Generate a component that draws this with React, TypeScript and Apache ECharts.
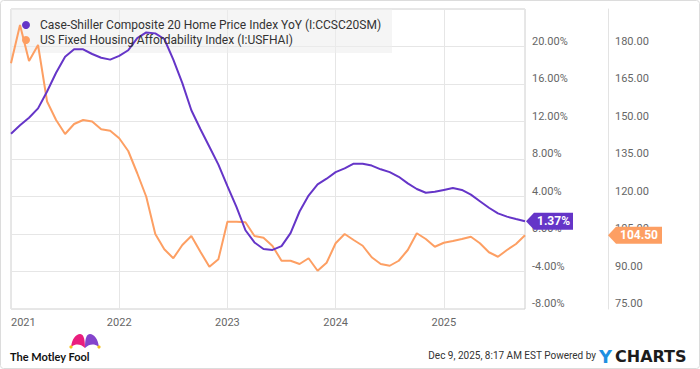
import React, { useEffect, useRef } from "react";
import * as echarts from "echarts";

// Month-end observation dates (Dec 2020 - Sep 2025)
const months = [
  "2020-12",
  "2021-01", "2021-02", "2021-03", "2021-04", "2021-05", "2021-06",
  "2021-07", "2021-08", "2021-09", "2021-10", "2021-11", "2021-12",
  "2022-01", "2022-02", "2022-03", "2022-04", "2022-05", "2022-06",
  "2022-07", "2022-08", "2022-09", "2022-10", "2022-11", "2022-12",
  "2023-01", "2023-02", "2023-03", "2023-04", "2023-05", "2023-06",
  "2023-07", "2023-08", "2023-09", "2023-10", "2023-11", "2023-12",
  "2024-01", "2024-02", "2024-03", "2024-04", "2024-05", "2024-06",
  "2024-07", "2024-08", "2024-09", "2024-10", "2024-11", "2024-12",
  "2025-01", "2025-02", "2025-03", "2025-04", "2025-05", "2025-06",
  "2025-07", "2025-08", "2025-09",
];

// Case-Shiller Composite 20 YoY (%)
const caseShillerYoY = [
  10.7,
  11.6, 12.4, 13.4, 15.2, 17.2, 18.9, 19.7, 19.7, 19.2, 18.8, 18.6, 19.0,
  19.6, 20.9, 21.5, 21.4, 20.8, 18.6, 16.1, 13.2, 11.2, 9.3, 7.4, 5.1,
  2.9, 0.4, -0.9, -1.6, -1.7, -1.3, 0.1, 2.4, 4.1, 5.3, 5.9, 6.6,
  7.0, 7.5, 7.5, 7.3, 6.9, 6.6, 6.1, 5.4, 4.8, 4.4, 4.5, 4.7,
  4.9, 4.7, 4.2, 3.5, 2.8, 2.2, 1.85, 1.6, 1.37,
];

// US Fixed Housing Affordability Index
const affordabilityIndex = [
  173.3,
  188.6, 174.2, 180.6, 158.0, 150.6, 145.0, 149.0, 150.6, 150.0, 146.9, 146.3, 143.3,
  138.2, 129.3, 119.9, 105.0, 98.9, 95.3, 100.6, 104.2, 97.9, 91.9, 94.9, 109.9,
  109.9, 109.7, 104.2, 103.5, 100.2, 94.3, 94.3, 93.0, 95.3, 90.3, 93.5, 101.3,
  105.0, 102.6, 100.3, 95.7, 93.0, 92.3, 94.3, 98.6, 105.3, 103.0, 99.9, 101.5,
  102.2, 103.0, 103.9, 101.3, 97.7, 95.9, 98.6, 101.0, 104.5,
];

const seriesNames = [
  "Case-Shiller Composite 20 Home Price Index YoY (I:CCSC20SM)",
  "US Fixed Housing Affordability Index (I:USFHAI)",
];

const yearRange = [2021, 2025.75];
const pctAxisRange = [-8, 24, 4];
const indexAxisRange = [75, 195, 15];
const footerText = "Dec 9, 2025, 8:17 AM EST Powered by";
const brandLeft = "The Motley Fool";
const brandRightY = "Y";
const brandRightRest = "CHARTS";

const PURPLE = "#6535c8";
const ORANGE = "#fd9f63";
const GRID = { left: 11, right: 175, top: 9, bottom: 60 };
const AXIS2_OFFSET = 83;

function monthEndYear(m: string) {
  const [y, mo] = m.split("-").map(Number);
  return y + mo / 12;
}

let shapesRegistered = false;
function registerShapes() {
  if (shapesRegistered) return;
  echarts.graphic.registerShape(
    "hatPink",
    echarts.graphic.extendPath(
      "M1,14 C2,6 6,1 10,1 C13,1 15,4 15,15 C12,12 9,11 6,11.5 C4,12 2.5,13 1,14 Z",
      {}
    )
  );
  echarts.graphic.registerShape(
    "hatPurple",
    echarts.graphic.extendPath(
      "M29,14 C28,6 24,1 20,1 C17,1 15,4 15,15 C18,12 21,11 24,11.5 C26,12 27.5,13 29,14 Z",
      {}
    )
  );
  shapesRegistered = true;
}

export default function App() {
  const ref = useRef<HTMLDivElement>(null);

  useEffect(() => {
    registerShapes();
    const chart = echarts.init(ref.current!, null, { renderer: "svg" });
    const xs = months.map(monthEndYear);

    chart.setOption({
      animation: false,
      backgroundColor: "#ffffff",
      textStyle: { fontFamily: "Roboto, 'Noto Sans', sans-serif" },
      grid: {
        left: GRID.left,
        right: GRID.right,
        top: GRID.top,
        bottom: GRID.bottom,
        show: true,
        borderColor: "#cfcfcf",
        borderWidth: 1,
        backgroundColor: "transparent",
      },
      legend: {
        orient: "vertical",
        left: 17,
        top: 14,
        itemWidth: 8,
        itemHeight: 8,
        itemGap: 3,
        icon: "circle",
        selectedMode: false,
        textStyle: { fontSize: 12, color: "#333", padding: [0, 0, 0, 5] },
        data: seriesNames,
        z: 5,
      },
      xAxis: {
        type: "value",
        min: yearRange[0],
        max: yearRange[1],
        interval: 1,
        axisLine: { show: false },
        axisTick: { show: false },
        splitLine: { show: true, lineStyle: { color: "#e6e6e6", width: 1 } },
        axisLabel: {
          color: "#666",
          fontSize: 11,
          margin: 8,
          alignMinLabel: "left",
          showMaxLabel: false,
          formatter: (v: number) => (Number.isInteger(v) ? String(v) : ""),
        },
      },
      yAxis: [
        {
          type: "value",
          position: "right",
          min: pctAxisRange[0],
          max: pctAxisRange[1],
          interval: pctAxisRange[2],
          axisLine: { show: false },
          axisTick: { show: false },
          splitLine: { show: true, lineStyle: { color: "#e6e6e6", width: 1 } },
          axisLabel: {
            color: "#666",
            fontSize: 11,
            margin: 7,
            verticalAlign: "bottom",
            showMaxLabel: false,
            formatter: (v: number) => v.toFixed(2) + "%",
          },
        },
        {
          type: "value",
          position: "right",
          offset: AXIS2_OFFSET,
          min: indexAxisRange[0],
          max: indexAxisRange[1],
          interval: indexAxisRange[2],
          axisLine: { show: true, lineStyle: { color: "#e3e3e3", width: 1 } },
          axisTick: { show: false },
          splitLine: { show: false },
          axisLabel: {
            color: "#666",
            fontSize: 11,
            margin: 7,
            verticalAlign: "bottom",
            showMaxLabel: false,
            formatter: (v: number) => v.toFixed(2),
          },
        },
      ],
      series: [
        {
          name: seriesNames[0],
          type: "line",
          yAxisIndex: 0,
          showSymbol: false,
          symbol: "circle",
          color: PURPLE,
          lineStyle: { width: 2, color: PURPLE },
          data: caseShillerYoY.map((v, i) => [xs[i], v]),
          z: 3,
        },
        {
          name: seriesNames[1],
          type: "line",
          yAxisIndex: 1,
          showSymbol: false,
          symbol: "circle",
          color: ORANGE,
          lineStyle: { width: 2, color: ORANGE },
          data: affordabilityIndex.map((v, i) => [xs[i], v]),
          z: 2,
        },
      ],
    });

    const last = months.length - 1;
    const pP = chart.convertToPixel({ seriesIndex: 0 }, [xs[last], caseShillerYoY[last]]) as number[];
    const pO = chart.convertToPixel({ seriesIndex: 1 }, [xs[last], affordabilityIndex[last]]) as number[];
    const W = chart.getWidth();
    const H = chart.getHeight();
    const plotRight = W - GRID.right;
    const axis2X = plotRight + AXIS2_OFFSET;

    const tag = (x0: number, y: number, w: number, color: string, text: string) => [
      {
        type: "polygon",
        z: 20,
        shape: {
          points: [
            [x0, y],
            [x0 + 8, y - 8.5],
            [x0 + 8 + w, y - 8.5],
            [x0 + 8 + w, y + 8.5],
            [x0 + 8, y + 8.5],
          ],
        },
        style: { fill: color },
      },
      {
        type: "text",
        z: 21,
        x: x0 + 8 + w / 2,
        y: y,
        style: {
          text,
          fill: "#ffffff",
          fontSize: 12,
          fontWeight: "bold",
          fontFamily: "Roboto, sans-serif",
          align: "center",
          verticalAlign: "middle",
        },
      },
    ];

    chart.setOption({
      graphic: [
        {
          type: "rect",
          z: 1,
          silent: true,
          shape: { x: GRID.left, y: GRID.top, width: 381, height: 44 },
          style: { fill: "rgba(236,236,236,0.55)" },
        },
        {
          type: "rect",
          z: 0,
          silent: true,
          shape: { x: 0.5, y: 0.5, width: W - 1, height: H - 1, r: 3 },
          style: { fill: "none", stroke: "#dcdcdc", lineWidth: 1 },
        },
        ...tag(plotRight + 1, pP[1], 39, PURPLE, caseShillerYoY[last].toFixed(2) + "%"),
        ...tag(axis2X, pO[1], 46, ORANGE, affordabilityIndex[last].toFixed(2)),
        {
          type: "hatPink",
          x: 70,
          y: 333,
          z: 10,
          style: { fill: "#ea1d7d" },
        },
        {
          type: "hatPurple",
          x: 70,
          y: 333,
          z: 10,
          style: { fill: "#8444cc" },
        },
        { type: "circle", z: 11, shape: { cx: 71, cy: 347, r: 1.6 }, style: { fill: "#f4c21b" } },
        { type: "circle", z: 11, shape: { cx: 99, cy: 347, r: 1.6 }, style: { fill: "#f4c21b" } },
        {
          type: "text",
          z: 10,
          x: 10,
          y: 356,
          style: {
            text: brandLeft,
            fill: "#111",
            fontSize: 11,
            fontWeight: "bold",
            fontFamily: "Lato, 'Open Sans', sans-serif",
            verticalAlign: "middle",
          },
        },
        {
          type: "text",
          z: 10,
          x: 596,
          y: 355,
          style: {
            text: footerText,
            fill: "#333",
            fontSize: 10,
            fontFamily: "Roboto, sans-serif",
            align: "right",
            verticalAlign: "middle",
          },
        },
        {
          type: "text",
          z: 10,
          x: 599,
          y: 356,
          style: {
            text: brandRightY,
            fill: "#1e8fe1",
            fontSize: 18,
            fontWeight: "bold",
            fontFamily: "'DejaVu Sans', sans-serif",
            verticalAlign: "middle",
          },
        },
        {
          type: "text",
          z: 10,
          x: 615,
          y: 356,
          style: {
            text: brandRightRest,
            fill: "#1c1c1c",
            fontSize: 16,
            fontWeight: "bold",
            fontFamily: "'DejaVu Sans', sans-serif",
            verticalAlign: "middle",
          },
        },
      ],
    });

    return () => chart.dispose();
  }, []);

  return (
    <div
      ref={ref}
      style={{ position: "absolute", left: 0, top: 0, width: 700, height: 369, background: "#fff" }}
    />
  );
}
